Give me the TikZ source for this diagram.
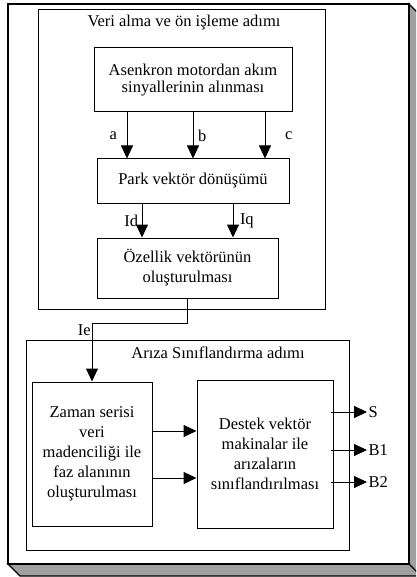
\documentclass[tikz,border=0pt]{standalone}
\usepackage{fontspec}
\setmainfont{Liberation Serif}
\usetikzlibrary{arrows.meta, positioning, calc}
\definecolor{shadowgray}{RGB}{160,160,160}

\begin{document}
\begin{tikzpicture}[
    x=1pt, y=-1pt,
    font=\fontsize{16.5}{20}\selectfont,
    arr/.style={-{Triangle[length=13pt, width=12pt]}, line width=1pt},
    lbl/.style={inner sep=1.5pt},
    box/.style={draw, line width=1pt, align=center, inner sep=0pt},
    stagebox/.style={draw, line width=1pt, inner sep=0pt}
  ]
    \useasboundingbox (0,0) rectangle (416,577);
    \begin{scope}
      \clip (0,0) rectangle (416,577);
      \filldraw[fill=shadowgray, line width=1.3pt]
        (409,4) -- (421,16) -- (421,576) -- (20,576) -- (8,564) -- (409,564) -- cycle;
      \draw[line width=1.3pt] (409,564) -- (421,576);
    \end{scope}
    \node[stagebox, line width=1.4pt, fill=white, minimum width=401pt, minimum height=560pt]
      (outer) at (208.5,284) {};

    \node[stagebox, minimum width=287pt, minimum height=299pt]
      (stageone) at (181.5,159.5) {};
    \node (titleone) at (184,23) {Veri alma ve ön işleme adımı};
    \node[stagebox, minimum width=323pt, minimum height=210pt]
      (stagetwo) at (187.5,445) {};
    \node (titletwo) at (218,353) {Arıza Sınıflandırma adımı};

    \node[box, minimum width=198pt, minimum height=64pt, font=\fontsize{16.5}{17}\selectfont]
      (asenkron) at (193,80) {Asenkron motordan akım\\sinyallerinin alınması};
    \node[box, minimum width=192pt, minimum height=44pt]
      (park) at (193,181) {Park vektör dönüşümü};
    \node[box, minimum width=181pt, minimum height=60pt]
      (ozellik) at (187.5,268) {Özellik vektörünün\\oluşturulması};
    \node[box, minimum width=120pt, minimum height=144pt]
      (zaman) at (92,454) {Zaman serisi\\veri\\madenciliği ile\\faz alanının\\oluşturulması};
    \node[box, minimum width=136pt, minimum height=148pt]
      (destek) at (265,454) {Destek vektör\\makinalar ile\\arızaların\\sınıflandırılması};

    \draw[arr] ([xshift=-66pt]asenkron.south) -- node[left=8pt, lbl] {a} ([xshift=-66pt]park.north);
    \draw[arr] (asenkron.south) -- node[right=3pt, lbl] {b} (park.north);
    \draw[arr] ([xshift=72pt]asenkron.south) -- node[right=18pt, lbl] {c} ([xshift=72pt]park.north);

    \draw[arr] ([xshift=-51pt]park.south) -- node[left=2pt, lbl] {Id} ([xshift=-45.5pt]ozellik.north);
    \draw[arr] ([xshift=40pt]park.south) -- node[right=5pt, lbl] {Iq} ([xshift=45.5pt]ozellik.north);

    \coordinate (iecorner) at (92,323);
    \draw[arr] (ozellik.south) |- (iecorner) -- (zaman.north);
    \node[anchor=north east, inner sep=1pt] (ie) at (iecorner) {Ie};

    \draw[arr] ([yshift=23pt]zaman.east) -- ([yshift=23pt]zaman.east -| destek.west);
    \draw[arr] ([yshift=-24pt]zaman.east) -- ([yshift=-24pt]zaman.east -| destek.west);

    \coordinate (outs) at (367,412);
    \coordinate (outbone) at (367,450);
    \coordinate (outbtwo) at (367,482);
    \draw[arr] ([xshift=-3pt]outs -| destek.east) -- (outs);
    \draw[arr] ([xshift=-3pt]outbone -| destek.east) -- (outbone);
    \draw[arr] ([xshift=-3pt]outbtwo -| destek.east) -- (outbtwo);
    \node[anchor=west, lbl] (s) at (outs) {S};
    \node[anchor=west, lbl] (bone) at (outbone) {B1};
    \node[anchor=west, lbl] (btwo) at (outbtwo) {B2};
  \end{tikzpicture}
\end{document}
